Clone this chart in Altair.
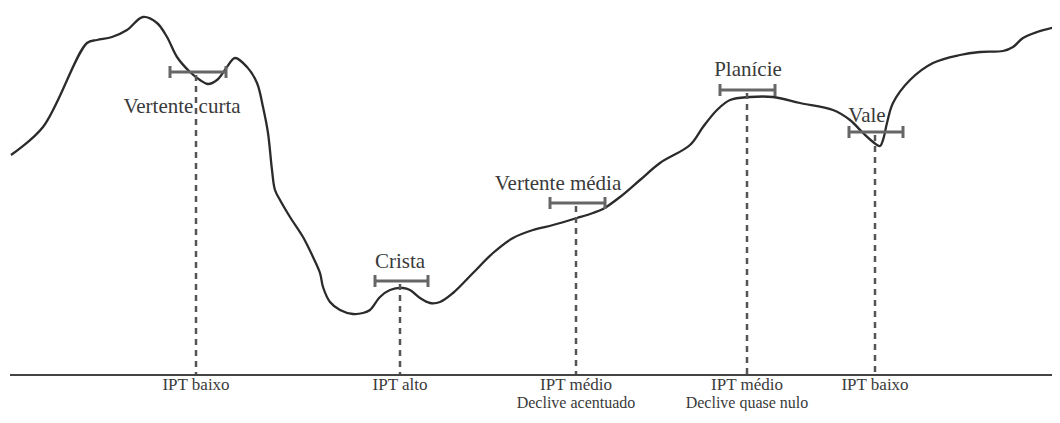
import altair as alt
import pandas as pd

# Terrain profile (horizontal distance, screen-depth)
profile_x = [11, 43, 87, 97, 112, 127, 143, 157, 167, 177, 190, 200, 208, 217, 227, 235, 247, 257,
             263, 268, 272, 275, 280, 290, 303, 313, 320, 323, 330, 340, 353, 363, 370, 380, 390,
             403, 410, 420, 430, 440, 453, 473, 493, 513, 533, 553, 577, 593, 603, 620, 640, 660,
             690, 703, 717, 730, 750, 773, 800, 833, 850, 863, 873, 880, 883, 887, 893, 910, 933,
             960, 980, 1003, 1013, 1023, 1037, 1060]
profile_y = [155, 127, 43, 40, 37, 30, 17, 23, 37, 57, 72, 80, 84, 80, 67, 58, 67, 83,
             107, 133, 170, 190, 200, 217, 237, 257, 273, 287, 302, 310, 314, 313, 310, 297, 290,
             288, 290, 298, 303, 302, 293, 273, 253, 238, 230, 225, 218, 213, 209, 197, 180, 163,
             145, 127, 110, 100, 97, 97, 103, 110, 120, 133, 142, 146, 140, 123, 103, 80, 63,
             55, 52, 51, 47, 38, 32, 26]

# Landform brackets
landforms = ["Vertente curta", "Crista", "Vertente média", "Planície", "Vale"]
center_x = [196, 400, 576, 747, 875]
bar_left = [170, 375, 550, 720, 849]
bar_right = [226, 428, 605, 775, 903]
bar_y = [72, 281, 203, 90, 132]
label_x = [182, 400, 558, 748, 867]
label_y = [107, 262, 184, 70, 116]

# Bottom classification labels
ipt_line1 = ["IPT baixo", "IPT alto", "IPT médio", "IPT médio", "IPT baixo"]
ipt_line2 = ["", "", "Declive acentuado", "Declive quase nulo", ""]

base_y = 375
base_x0, base_x1 = 10, 1060

prof = pd.DataFrame({"x": profile_x, "y": profile_y})
lf = pd.DataFrame({
    "name": landforms, "cx": center_x, "x0": bar_left, "x1": bar_right, "by": bar_y,
    "capt": [b - 6 for b in bar_y], "capb": [b + 6 for b in bar_y],
    "lx": label_x, "ly": label_y, "dy0": [b + 3 for b in bar_y], "dy1": [base_y - 1] * 5,
    "l1": ipt_line1, "l2": ipt_line2, "t1": [385] * 5, "t2": [408] * 5,
})
base = pd.DataFrame({"x0": [base_x0], "x1": [base_x1], "y": [base_y]})

xs = alt.Scale(domain=[8, 1052], nice=False, zero=False)
ys = alt.Scale(domain=[8, 411], nice=False, zero=False, reverse=True)
X = lambda f: alt.X(f, type="quantitative", scale=xs, axis=None)
Y = lambda f: alt.Y(f, type="quantitative", scale=ys, axis=None)

FONT = "Liberation Serif, DejaVu Serif, serif"
TXT = "#3a3a3a"
GRAY = "#666666"

line = alt.Chart(prof).mark_line(color="#2b2b2b", strokeWidth=2.3, interpolate="catmull-rom", clip=True).encode(
    x=X("x"), y=Y("y"), order="x:Q")

baseline = alt.Chart(base).mark_rule(color="#444444", strokeWidth=2).encode(
    x=X("x0"), x2="x1", y=Y("y"))

dashes = alt.Chart(lf).mark_rule(color="#555555", strokeWidth=2.5, strokeDash=[6, 5]).encode(
    x=X("cx"), y=Y("dy0"), y2="dy1")

hbar = alt.Chart(lf).mark_rule(color=GRAY, strokeWidth=3).encode(
    x=X("x0"), x2="x1", y=Y("by"))
capl = alt.Chart(lf).mark_rule(color=GRAY, strokeWidth=3).encode(
    x=X("x0"), y=Y("capt"), y2="capb")
capr = alt.Chart(lf).mark_rule(color=GRAY, strokeWidth=3).encode(
    x=X("x1"), y=Y("capt"), y2="capb")

labels = alt.Chart(lf).mark_text(font=FONT, fontSize=21, color=TXT, baseline="middle", align="center").encode(
    x=X("lx"), y=Y("ly"), text="name:N")

bot1 = alt.Chart(lf).mark_text(font=FONT, fontSize=17, color=TXT, baseline="middle", align="center").encode(
    x=X("cx"), y=Y("t1"), text="l1:N")
bot2 = alt.Chart(lf).mark_text(font=FONT, fontSize=16, color=TXT, baseline="alphabetic", align="center").encode(
    x=X("cx"), y=Y("t2"), text="l2:N")

chart = alt.layer(line, baseline, dashes, hbar, capl, capr, labels, bot1, bot2).properties(
    width=1044, height=403, padding=0, background="white",
    autosize=alt.AutoSizeParams(type="none")
).configure_view(stroke=None)

chart.save("out.html", embed_options={"renderer": "svg", "actions": False})
